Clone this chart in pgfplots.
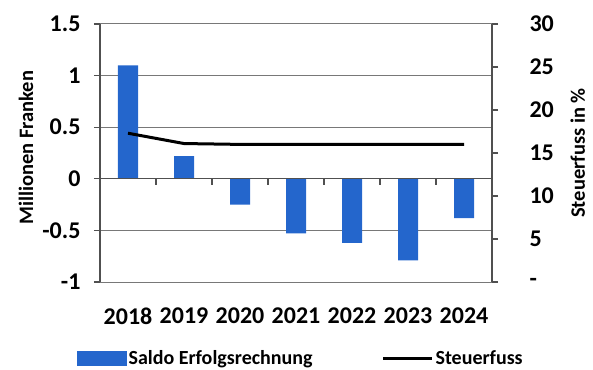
\documentclass[border=0pt]{standalone}
\usepackage{pgfplots}
\pgfplotsset{compat=1.18}
\usepackage{fontspec}
\setmainfont{Carlito}
\definecolor{barblue}{RGB}{36,102,204}
\definecolor{gridgray}{RGB}{120,120,120}
\definecolor{axgray}{RGB}{80,80,80}
\newcommand{\tickfont}{\fontsize{24pt}{27pt}\selectfont\bfseries}
\newcommand{\labfont}{\fontsize{20.5pt}{23pt}\selectfont\bfseries}
\newcommand{\legfont}{\fontsize{20pt}{22pt}\selectfont\bfseries}
\begin{document}
\begin{tikzpicture}
\useasboundingbox (-100pt,-87pt) rectangle (493pt,282pt);
\begin{axis}[
  at={(0pt,0pt)}, anchor=south west,
  scale only axis, width=392pt, height=258pt,
  xmin=-0.5, xmax=6.5, ymin=-1, ymax=1.5,
  axis y line*=left, axis x line*=bottom,
  x axis line style={draw=gridgray, line width=1pt, -},
  y axis line style={draw=axgray, line width=1.4pt, -},
  xtick={0,...,6},
  xticklabels={2018,2019,2020,2021,2022,2023,2024},
  x tick label style={font=\tickfont, yshift=-16pt},
  major x tick style={draw=none},
  ytick={-1,-0.5,0,0.5,1,1.5},
  yticklabels={-1,-0.5,0,0.5,1,1.5},
  y tick label style={font=\tickfont, xshift=-10pt},
  tick align=outside,
  major tick length=6pt,
  y tick style={draw=axgray, line width=1.2pt},
  ymajorgrids,
  grid style={draw=gridgray, line width=1pt},
  ylabel={Millionen Franken},
  ylabel style={font=\labfont, at={(axis description cs:-0.189,0.52)}, anchor=center},
  clip=false,
]
\addplot[ybar, bar width=20pt, fill=barblue, draw=none] coordinates {
  (0,1.10) (1,0.22) (2,-0.25) (3,-0.53) (4,-0.62) (5,-0.79) (6,-0.38)
};
\draw[axgray, line width=1.4pt] (axis cs:-0.5,0) -- (axis cs:6.5,0);
\pgfplotsinvokeforeach{0.5,1.5,2.5,3.5,4.5,5.5}{
  \draw[axgray, line width=1.2pt] (axis cs:#1,0) -- ++(0pt,-6pt);
}
\end{axis}
\begin{axis}[
  at={(0pt,0pt)}, anchor=south west,
  scale only axis, width=392pt, height=258pt,
  xmin=-0.5, xmax=6.5, ymin=0, ymax=30,
  axis y line*=right, axis x line=none,
  y axis line style={draw=axgray, line width=1.4pt, -},
  ytick={0,5,10,15,20,25,30},
  yticklabels={-,5,10,15,20,25,30},
  y tick label style={font=\tickfont, xshift=28pt},
  tick align=outside,
  major tick length=6pt,
  y tick style={draw=axgray, line width=1.2pt},
  ylabel={Steuerfuss in \%},
  ylabel style={font=\labfont, at={(axis description cs:1.219,0.5)}, anchor=center},
  clip=false,
  legend columns=2,
  legend style={draw=none, fill=none, font=\legfont, inner sep=0pt,
    at={(axis description cs:-0.0587,-0.297)}, anchor=west,
    /tikz/every even column/.append style={column sep=67pt}},
]
\addlegendimage{legend image code/.code={\fill[barblue] (0pt,-7pt) rectangle (49pt,7pt);}}
\addlegendentry{Saldo Erfolgsrechnung}
\addplot[black, line width=3pt, no marks,
  legend image code/.code={\draw[black, line width=3pt] (0pt,0pt) -- (49pt,0pt);}] coordinates {
  (0,17.3) (1,16.1) (2,16) (3,16) (4,16) (5,16) (6,16)
};
\addlegendentry{Steuerfuss}
\end{axis}
\end{tikzpicture}
\end{document}
